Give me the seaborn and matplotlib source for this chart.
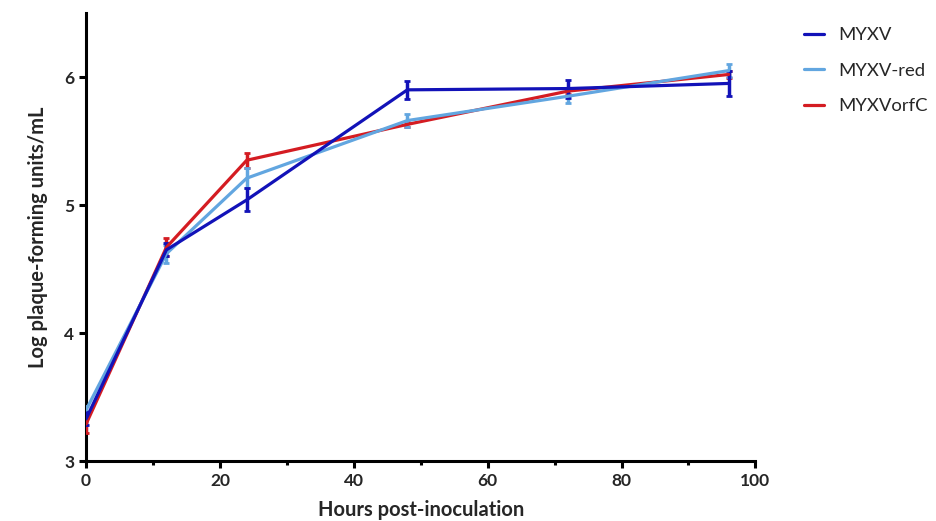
import matplotlib
matplotlib.use('Agg')
import matplotlib.pyplot as plt
import pandas as pd
import seaborn as sns
from matplotlib.ticker import MultipleLocator

# values
hours = [0, 12, 24, 48, 72, 96]
myxv = [3.33, 4.65, 5.04, 5.90, 5.91, 5.95]
myxv_err = [0.05, 0.05, 0.09, 0.07, 0.07, 0.10]
myxv_red = [3.40, 4.62, 5.21, 5.66, 5.85, 6.05]
myxv_red_err = [0.03, 0.07, 0.08, 0.05, 0.05, 0.05]
myxv_orfc = [3.29, 4.67, 5.35, 5.63, 5.89, 6.02]
myxv_orfc_err = [0.07, 0.07, 0.06, 0.02, 0.02, 0.03]

names = ['MYXV', 'MYXV-red', 'MYXVorfC']
colors = ['#1212b8', '#62a6e0', '#d41c22']

df = pd.DataFrame({
    'hours': hours * 3,
    'value': myxv + myxv_red + myxv_orfc,
    'err': myxv_err + myxv_red_err + myxv_orfc_err,
    'virus': [n for n in names for _ in hours],
})

sns.set_style('white')
plt.rcParams['font.family'] = ['Lato', 'DejaVu Sans']

fig = plt.figure(figsize=(9.36, 5.21), dpi=100)
ax = fig.add_axes([0.092, 0.115, 0.715, 0.86])

# draw in reverse so dark blue sits on top
for name, c in reversed(list(zip(names, colors))):
    d = df[df['virus'] == name]
    ax.errorbar(d['hours'], d['value'], yerr=d['err'], fmt='none',
                ecolor=c, elinewidth=2.5, capsize=2, capthick=2, zorder=3)

sns.lineplot(data=df, x='hours', y='value', hue='virus', hue_order=names[::-1],
             palette=dict(zip(names, colors)), linewidth=2.3, ax=ax, zorder=4)

ax.set_xlim(0, 100)
ax.set_ylim(3, 6.5)
ax.xaxis.set_major_locator(MultipleLocator(20))
ax.xaxis.set_minor_locator(MultipleLocator(10))
ax.set_yticks([3, 4, 5, 6])

for s in ['top', 'right']:
    ax.spines[s].set_visible(False)
for s in ['left', 'bottom']:
    ax.spines[s].set_linewidth(2.2)
    ax.spines[s].set_color('black')
ax.tick_params(which='both', direction='out', color='black', width=2.2,
               bottom=True, left=True)
ax.tick_params(which='major', length=5, labelsize=12.5)
ax.tick_params(which='minor', length=3)
for lab in ax.get_xticklabels() + ax.get_yticklabels():
    lab.set_fontweight('bold')

ax.set_xlabel('Hours post-inoculation', fontsize=14.5, fontweight='bold', labelpad=8)
ax.set_ylabel('Log plaque-forming units/mL', fontsize=14.5, fontweight='bold', labelpad=12)

handles, labels = ax.get_legend_handles_labels()
order = [labels.index(n) for n in names]
ax.legend([handles[i] for i in order], names, loc='upper left',
          bbox_to_anchor=(1.048, 1.005), frameon=False, fontsize=13.3,
          handlelength=1.1, handletextpad=0.75, labelspacing=1.05)

fig.savefig('out.png', dpi=100)
